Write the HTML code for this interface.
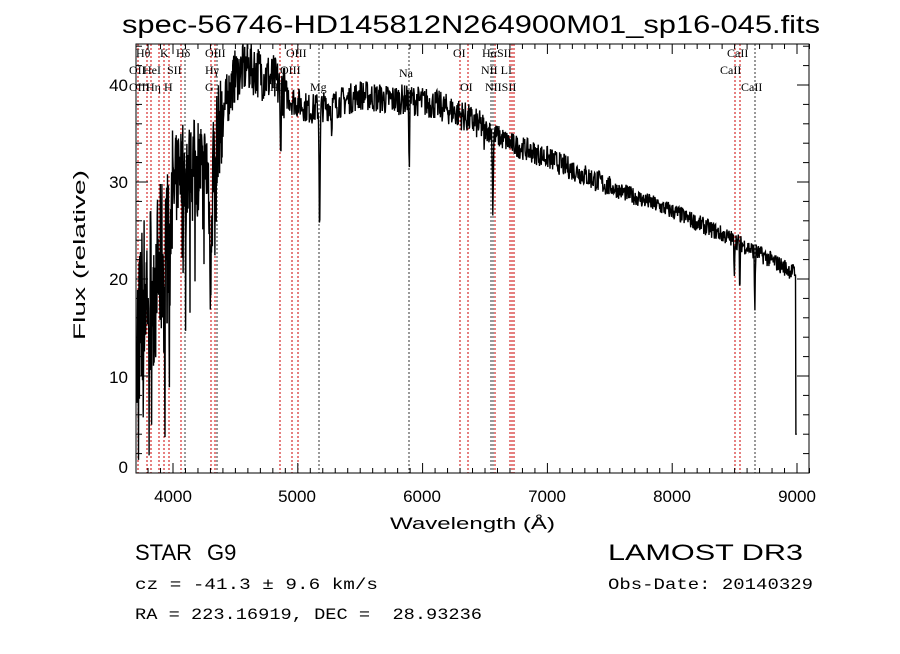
<!DOCTYPE html>
<html><head><meta charset="utf-8"><style>
body{margin:0;background:#fff;}
.sa{font-family:"Liberation Sans",sans-serif;}
.mo{font-family:"Liberation Mono",monospace;}
.se{font-family:"Liberation Serif",serif;}
</style></head><body>
<svg id="s" width="900" height="649" xmlns="http://www.w3.org/2000/svg">
<rect width="900" height="649" fill="#fff"/>
<text class="sa" x="122" y="33" font-size="25" textLength="698" lengthAdjust="spacingAndGlyphs">spec-56746-HD145812N264900M01_sp16-045.fits</text>
<g id="lines"></g>
<path id="spec" fill="none" stroke="#000" stroke-width="1.4"/>
<g id="ax" stroke="#000" stroke-width="1" fill="none"></g>
<g id="labs" class="se" font-size="12"></g>
<g class="sa" font-size="17">
<text x="173" y="502" text-anchor="middle">4000</text>
<text x="297" y="502" text-anchor="middle">5000</text>
<text x="422" y="502" text-anchor="middle">6000</text>
<text x="547" y="502" text-anchor="middle">7000</text>
<text x="672" y="502" text-anchor="middle">8000</text>
<text x="797" y="502" text-anchor="middle">9000</text>
<text x="128" y="473" text-anchor="end">0</text>
<text x="128" y="383" text-anchor="end">10</text>
<text x="128" y="285" text-anchor="end">20</text>
<text x="128" y="188" text-anchor="end">30</text>
<text x="128" y="91" text-anchor="end">40</text>
<text x="390" y="529" textLength="165" lengthAdjust="spacingAndGlyphs">Wavelength (Å)</text>
<text transform="translate(85,340) rotate(-90)" textLength="170" lengthAdjust="spacingAndGlyphs">Flux (relative)</text>
</g>
<g class="sa">
<text x="135" y="560" font-size="22">STAR</text>
<text x="207" y="560" font-size="22">G9</text>
<text x="608" y="560" font-size="22" textLength="195" lengthAdjust="spacingAndGlyphs">LAMOST DR3</text>
</g>
<g class="mo" font-size="16">
<text x="135" y="589" textLength="243" lengthAdjust="spacingAndGlyphs">cz = -41.3 ± 9.6 km/s</text>
<text x="608" y="589" textLength="205" lengthAdjust="spacingAndGlyphs">Obs-Date: 20140329</text>
<text x="135" y="619" textLength="347" lengthAdjust="spacingAndGlyphs" xml:space="preserve">RA = 223.16919, DEC =  28.93236</text>
</g>
</svg>
<script>
var L=136,R=809,T=44,B=473;
function X(w){return 173+(w-4000)*0.1248;}
function Y(f){return B-9.7*f;}
var ns="http://www.w3.org/2000/svg";
function el(p,t,a,txt){var e=document.createElementNS(ns,t);for(var k in a)e.setAttribute(k,a[k]);if(txt)e.textContent=txt;p.appendChild(e);return e;}
var lx=[[138,'r'],[147,'r'],[151,'r'],[159,'r'],[164,'r'],[169,'r'],[181,'r'],[185,'k'],[211,'r'],[215,'r'],[217,'k'],[280,'r'],[292,'r'],[298,'r'],[319,'k'],[409,'k'],[460,'r'],[468,'r'],[491,'k'],[493,'k'],[495,'r'],[510,'r'],[512,'r'],[514,'r'],[735,'r'],[740,'r'],[755,'k']];
var g=document.getElementById('lines');
lx.forEach(function(l){el(g,'line',{x1:l[0],x2:l[0],y1:T,y2:B,stroke:l[1]=='r'?'#c00':'#333','stroke-width':1,'stroke-dasharray':'2,2'});});
var lb=[[136,57,'Hθ'],[160,57,'K'],[176,57,'Hδ'],[205,57,'OIII'],[286,57,'OIII'],[453,57,'OI'],[482,57,'HαSII'],[727,57,'CaII'],
[129,74,'OII'],[143,74,'HeI'],[167,74,'SII'],[205,74,'Hγ'],[280,74,'OIII'],[399,77,'Na'],[481,74,'NII LI'],[720,74,'CaII'],
[129,91,'OIII'],[146,91,'Hη H'],[205,91,'G'],[270,91,'Hβ'],[310,91,'Mg'],[460,91,'OI'],[485,91,'NIISII'],[741,91,'CaII']];
var gl=document.getElementById('labs');
lb.forEach(function(l){el(gl,'text',{x:l[0],y:l[1]},l[2]);});
var seed=7;function rnd(){seed=(seed*16807)%2147483647;return seed/2147483647;}
function cont(w){
 var pts=[[3711,12],[3760,18],[3800,20],[3880,20],[3950,24],[4000,28],[4050,32],[4100,31],[4200,32],[4300,31],[4360,35],[4420,38],[4500,41],[4600,42],[4800,40.5],[4950,38.5],[5100,37.5],[5300,38],[5500,39],[5700,38.5],[5900,38.5],[6100,38],[6300,37],[6500,35.5],[6700,34],[7000,32.5],[7500,29.5],[8000,27],[8500,24],[9000,20.5]];
 for(var i=0;i<pts.length-1;i++){if(w<=pts[i+1][0]){var a=pts[i],b=pts[i+1];return a[1]+(b[1]-a[1])*(w-a[0])/(b[0]-a[0]);}}return 20.5;}
var dips=[[3934,10,6],[3969,10,6],[4101,5,6],[4300,10,10],[4340,5,5],[4861,7,5],[5175,12,6],[5270,2,5],[5892,8,4],[6563,8,5],[6495,2,4],[8498,3,4],[8542,5,4],[8662,6,4]];
var d='';var w=3711;var first=true;
while(w<=9000){
 var c=cont(w);
 var amp=w<4000?9:(w<4400?5:(w<4900?2.8:(w<6500?1.6:(w<7500?1.2:0.9))));
 var f=c+(rnd()-0.5)*2*amp;
 if(w<4400&&rnd()<0.2)f-=rnd()*12;
 dips.forEach(function(p){f-=p[1]*Math.exp(-Math.pow((w-p[0])/p[2],2));});
 if(w>8990)f=4;
 if(w<3725)f=rnd()*25;
 f=Math.max(0.2,Math.min(44.2,f));
 d+=(first?'M':'L')+X(w).toFixed(1)+','+Y(f).toFixed(1);first=false;
 w+=w<4500?2.5:3.5;
}
document.getElementById('spec').setAttribute('d',d);
var ax=document.getElementById('ax');
el(ax,'rect',{x:L,y:T,width:R-L,height:B-T});
for(var v=3800;v<=9100;v+=100){var x=X(v);var mj=v%1000==0;var h=mj?10:5;
 el(ax,'line',{x1:x,x2:x,y1:B,y2:B-h});el(ax,'line',{x1:x,x2:x,y1:T,y2:T+h});}
for(var f=0;f<=44;f+=2){var y=Y(f);var h=f%10==0?12:6;
 el(ax,'line',{x1:L,x2:L+h,y1:y,y2:y});el(ax,'line',{x1:R,x2:R-h,y1:y,y2:y});}
</script>
</body></html>
